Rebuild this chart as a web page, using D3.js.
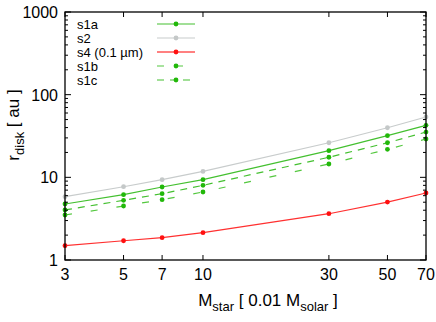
<!DOCTYPE html>
<html>
<head>
<meta charset="utf-8">
<script src="https://cdn.jsdelivr.net/npm/d3@7"></script>
<style>
  body { margin: 0; background: #fff; }
  text { font-family: "Liberation Sans", Arial, sans-serif; }
</style>
</head>
<body>
<svg width="436" height="322"></svg>
<script>
const width = 436;
const height = 322;

// data
const mstar = [3, 5, 7, 10, 30, 50, 70];
const s1a = [4.76, 6.17, 7.64, 9.36, 21.0, 31.9, 42.6];
const s2 = [5.83, 7.7, 9.36, 11.8, 26.2, 39.8, 53.7];
const s4 = [1.49, 1.71, 1.86, 2.14, 3.63, 5.02, 6.46];
const s1b = [3.5, 4.5, 5.37, 6.65, 14.5, 21.8, 29.1];
const s1c = [4.03, 5.27, 6.34, 8.0, 17.5, 26.2, 35.3];
const xTicks = [3, 5, 7, 10, 30, 50, 70];
const yTicks = [1, 10, 100, 1000];

const series = [
  { name: "s1a", values: s1a, line: "#44c030", dot: "#22b80a", dash: null },
  { name: "s2", values: s2, line: "#c8cccc", dot: "#c4c8c8", dash: null },
  { name: "s4 (0.1 µm)", values: s4, line: "#ff3030", dot: "#ff1010", dash: null },
  { name: "s1b", values: s1b, line: "#55c840", dot: "#22b80a", dash: "7,19" },
  { name: "s1c", values: s1c, line: "#44c030", dot: "#22b80a", dash: "7,6" }
];

const margin = { left: 65, right: 10, top: 12, bottom: 62 };
const x = d3.scaleLog().domain([3, 70]).range([margin.left, width - margin.right]);
const y = d3.scaleLog().domain([1, 1000]).range([height - margin.bottom, margin.top]);

const svg = d3.select("svg");

const line = d3.line()
    .x((d, i) => x(mstar[i]))
    .y(d => y(d));

// series lines and points (draw in order so s1a on top of the dashed ones)
const drawOrder = [1, 3, 4, 0, 2];
drawOrder.forEach(k => {
  const s = series[k];
  svg.append("path")
      .datum(s.values)
      .attr("d", line)
      .attr("fill", "none")
      .attr("stroke", s.line)
      .attr("stroke-width", 1.2)
      .attr("stroke-dasharray", s.dash);
  svg.append("g")
      .selectAll("circle")
      .data(s.values)
      .join("circle")
      .attr("cx", (d, i) => x(mstar[i]))
      .attr("cy", d => y(d))
      .attr("r", 2.4)
      .attr("fill", s.dot);
});

// frame
const x0 = margin.left, x1 = width - margin.right;
const y0 = margin.top, y1 = height - margin.bottom;
svg.append("rect")
    .attr("x", x0).attr("y", y0)
    .attr("width", x1 - x0).attr("height", y1 - y0)
    .attr("fill", "none")
    .attr("stroke", "#000")
    .attr("stroke-width", 1.3);

// y ticks, both sides, inward
const minor = [];
[1, 10, 100].forEach(dec => {
  for (let m = 2; m <= 9; m++) minor.push(dec * m);
});
const tickG = svg.append("g").attr("stroke", "#000").attr("stroke-width", 1);
yTicks.forEach(v => {
  tickG.append("line").attr("x1", x0).attr("x2", x0 + 6).attr("y1", y(v)).attr("y2", y(v));
  tickG.append("line").attr("x1", x1).attr("x2", x1 - 6).attr("y1", y(v)).attr("y2", y(v));
});
minor.forEach(v => {
  tickG.append("line").attr("x1", x0).attr("x2", x0 + 3).attr("y1", y(v)).attr("y2", y(v));
  tickG.append("line").attr("x1", x1).attr("x2", x1 - 3).attr("y1", y(v)).attr("y2", y(v));
});
xTicks.forEach(v => {
  tickG.append("line").attr("x1", x(v)).attr("x2", x(v)).attr("y1", y1).attr("y2", y1 - 5);
  tickG.append("line").attr("x1", x(v)).attr("x2", x(v)).attr("y1", y0).attr("y2", y0 + 5);
});

// tick labels
svg.append("g")
    .selectAll("text")
    .data(yTicks)
    .join("text")
    .attr("x", x0 - 7)
    .attr("y", d => y(d) + 6)
    .attr("text-anchor", "end")
    .attr("font-size", "16px")
    .text(d => d);

svg.append("g")
    .selectAll("text")
    .data(xTicks)
    .join("text")
    .attr("x", d => x(d))
    .attr("y", y1 + 20)
    .attr("text-anchor", "middle")
    .attr("font-size", "16px")
    .text(d => d);

// axis titles
const xt = svg.append("text")
    .attr("x", 268)
    .attr("y", 306)
    .attr("text-anchor", "middle")
    .attr("font-size", "17px");
xt.append("tspan").text("M");
xt.append("tspan").attr("dy", 5).attr("font-size", "13px").text("star");
xt.append("tspan").attr("dy", -5).text(" [ 0.01 M");
xt.append("tspan").attr("dy", 5).attr("font-size", "13px").text("solar");
xt.append("tspan").attr("dy", -5).text(" ]");

const yt = svg.append("text")
    .attr("transform", "translate(19,125) rotate(-90)")
    .attr("text-anchor", "middle")
    .attr("font-size", "17px");
yt.append("tspan").text("r");
yt.append("tspan").attr("dy", 5).attr("font-size", "13px").text("disk");
yt.append("tspan").attr("dy", -5).text(" [ au ]");

// legend
const legend = svg.append("g");
series.forEach((s, i) => {
  const ly = 24 + i * 14;
  legend.append("text")
      .attr("x", 77)
      .attr("y", ly + 4.5)
      .attr("font-size", "13px")
      .text(s.name);
  legend.append("line")
      .attr("x1", 157).attr("x2", 195)
      .attr("y1", ly).attr("y2", ly)
      .attr("stroke", i === 2 ? "#ff8080" : s.line)
      .attr("stroke-width", i === 2 ? 2 : 1.2)
      .attr("stroke-dasharray", s.dash ? (i === 3 ? "7,12" : "7,6") : null);
  legend.append("circle")
      .attr("cx", 176).attr("cy", ly)
      .attr("r", 2.4)
      .attr("fill", s.dot);
});
</script>
</body>
</html>
